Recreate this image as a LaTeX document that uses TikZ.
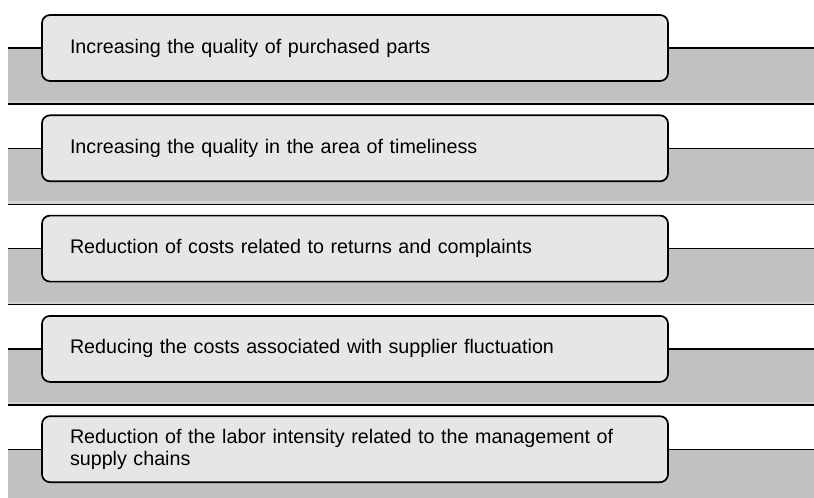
\documentclass[tikz,border=0pt]{standalone}
\usepackage{fontspec}
\setmainfont{Liberation Sans}
\usetikzlibrary{positioning}
\usetikzlibrary{backgrounds}

\definecolor{bandgray}{HTML}{C0C2C2}
\definecolor{bandlight}{HTML}{D2D4D4}
\definecolor{boxgray}{HTML}{E6E6E6}

\tikzset{
  goalbox/.style={draw=black,line width=1.7pt,fill=boxgray,rounded corners=8pt,
    anchor=north west,minimum width=626pt,minimum height=66pt,
    text width=570pt,inner xsep=28pt,inner ysep=0pt,outer sep=0pt,align=left,
    font=\fontsize{19.7}{22.5}\selectfont},
  bandline/.style={draw=black,line width=1.4pt}
}

\begin{document}
\begin{tikzpicture}[x=1pt,y=-1pt,line cap=butt,line join=round]
  \useasboundingbox (0,0) rectangle (814,498);
  \clip (0,0) rectangle (814,498);
  \foreach \i/\txt in {0/{Increasing the quality of purchased parts},
      1/{Increasing the quality in the area of timeliness},
      2/{Reduction of costs related to returns and complaints},
      3/{Reducing the costs associated with supplier fluctuation},
      4/{Reduction of the labor intensity related to the management of\\supply chains}}{
    \pgfmathsetmacro{\ytop}{15+100.3*\i}
    \node[goalbox] (goal\i) at (42,\ytop) {\txt};
    \coordinate (left\i) at (goal\i.west -| 8,0);
    \coordinate (right\i) at (goal\i.east -| 814,0);
    \begin{scope}[on background layer]
      \fill[bandgray] (left\i) rectangle (814,\ytop+86);
      \fill[bandlight] (8,\ytop+86) rectangle (814,\ytop+88.5);
      \draw[bandline] (8,\ytop+89) -- (814,\ytop+89);
    \end{scope}
    \draw[bandline] (left\i) -- (goal\i.west);
    \draw[bandline] (goal\i.east) -- (right\i);
  }
\end{tikzpicture}
\end{document}
